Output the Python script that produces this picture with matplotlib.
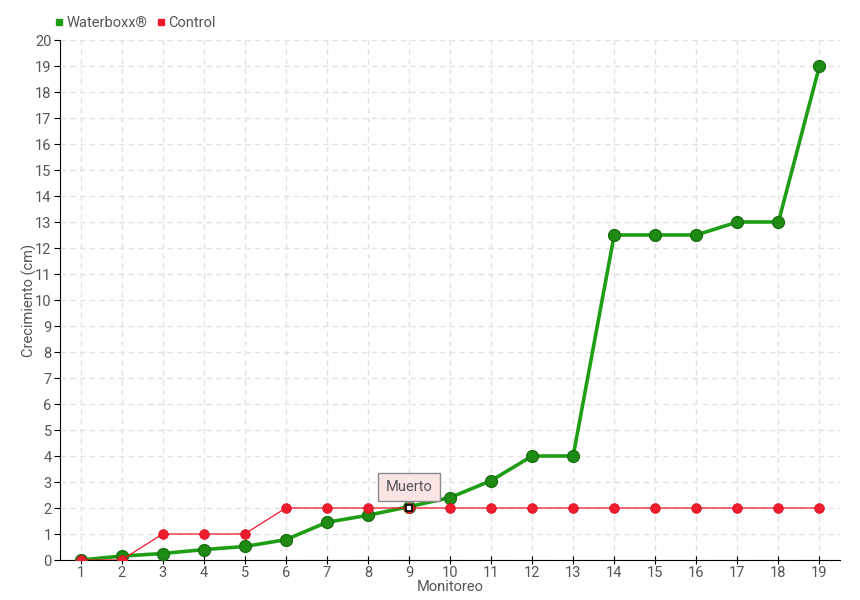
import matplotlib
matplotlib.use("Agg")
import matplotlib.pyplot as plt
from matplotlib.lines import Line2D

monitoreo = list(range(1, 20))
waterboxx = [0, 0.15, 0.25, 0.4, 0.52, 0.78, 1.45, 1.72, 2.05, 2.4, 3.05, 4, 4, 12.5, 12.5, 12.5, 13, 13, 19]
control = [0, 0, 1, 1, 1, 2, 2, 2, 2, 2, 2, 2, 2, 2, 2, 2, 2, 2, 2]
y_ticks = list(range(0, 21))

txt = "#555555"
plt.rcParams['font.family'] = ['Roboto', 'DejaVu Sans']

fig = plt.figure(figsize=(8.6, 6), dpi=100)
ax = fig.add_axes([60 / 860, 40 / 600, 780 / 860, 520 / 600])

ax.plot(monitoreo, waterboxx, color="#1e9e14", lw=2.6, marker="o", ms=8.5,
        mfc="#1e8c14", mec="#17700f", mew=1, zorder=3, label="Waterboxx®")
ax.plot(monitoreo, control, color="#f0162a", lw=0.9, marker="o", ms=7,
        mfc="#ee1c2c", mec="#d81020", mew=0.5, zorder=4, label="Control")

# punto muerto
ax.plot([9], [2], marker="s", ms=5, mfc="white", mec="black", mew=1.2, zorder=6)
ax.annotate("Muerto", xy=(9, 2), xytext=(9, 2.8), ha="center", va="center",
            fontsize=10.5, color=txt, zorder=7,
            bbox=dict(boxstyle="square,pad=0.5", fc="#fbe4e4", ec="#8a8a8a", lw=1),
            arrowprops=dict(arrowstyle="wedge,tail_width=0.5", fc="#fbe4e4", ec="#8a8a8a", lw=1,
                            shrinkA=0, shrinkB=4))

ax.set_xlim(0.5, 19.5)
ax.set_ylim(0, 20)
ax.set_xticks(monitoreo)
ax.set_yticks(y_ticks)
ax.grid(True, color="#e2e2e2", ls=(0, (4, 3)), lw=1)
ax.set_axisbelow(True)
for s in ["top", "right"]:
    ax.spines[s].set_visible(False)
ax.tick_params(axis="x", direction="inout", length=6, colors=txt, labelsize=10.5, pad=1)
ax.tick_params(axis="y", direction="out", length=4, colors=txt, labelsize=10.5, pad=2)
for s in ["left", "bottom"]:
    ax.spines[s].set_color("black")
ax.tick_params(color="black")

ax.set_xlabel("Monitoreo", color=txt, fontsize=10.5, labelpad=0.5)
ax.set_ylabel("Crecimiento (cm)", color=txt, fontsize=10.5, labelpad=-1)

# leyenda
handles = [Line2D([], [], ls="none", marker="s", ms=5, color="#1e9e14"),
           Line2D([], [], ls="none", marker="s", ms=5, color="#f0162a")]
fig.legend(handles, ["Waterboxx®", "Control"], loc="upper left", bbox_to_anchor=(0.047, 0.995),
           ncol=2, frameon=False, fontsize=10.5, labelcolor=txt, handletextpad=0.1,
           columnspacing=0.5, handlelength=0.8)

plt.savefig("out.png", dpi=100)
